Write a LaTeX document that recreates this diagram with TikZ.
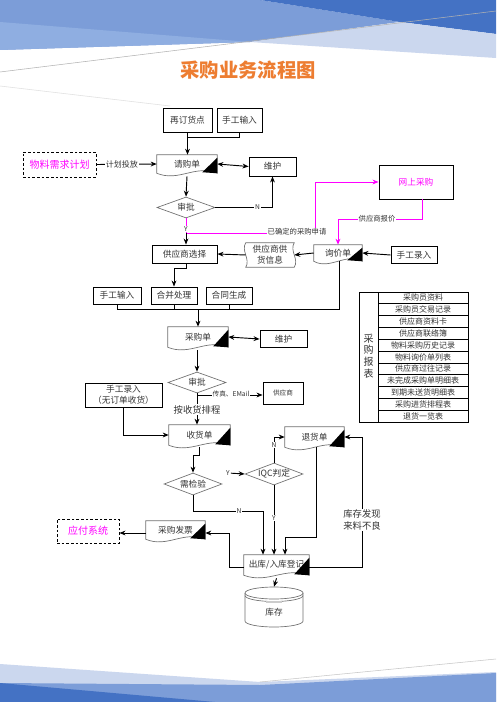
\documentclass[tikz,border=0pt]{standalone}
\usepackage{fontspec}
\setmainfont{Noto Sans CJK SC}
\usetikzlibrary{arrows.meta,shapes.geometric,calc}
\definecolor{bgdark}{HTML}{4472C4}
\definecolor{bgmid}{HTML}{7C9DD8}
\definecolor{bgmidb}{HTML}{8FAEE1}
\definecolor{bglight}{HTML}{CBD7EE}
\definecolor{txt}{HTML}{333333}
\definecolor{mag}{HTML}{FF00FF}
\definecolor{ttl}{HTML}{ED7D31}
\definecolor{shp}{HTML}{707070}
\newcommand\docdraw[1]{%
  \draw[docline] (#1.north west) -- (#1.north east) -- (#1.south east)
    .. controls ($(#1.south)+(8,-9)$) and ($(#1.south)+(-8,9)$) .. (#1.south west) -- cycle;
  \fill[black] (#1.south east) -- ($(#1.south east)+(-15,-1)$) -- ($(#1.north east)+(0,3)$) -- cycle;}
\tikzset{
  mw/.style={minimum width=#1*0.75pt},
  mh/.style={minimum height=#1*0.75pt},
  box/.style={draw=black, line width=0.7pt, inner sep=0pt, text=txt, font=\fontsize{6.5}{8}\selectfont},
  dbox/.style={box, dash pattern=on 2pt off 1.5pt},
  doc/.style={inner sep=0pt, text=txt, font=\fontsize{6.5}{8}\selectfont},
  docline/.style={draw=shp, line width=0.5pt},
  dia/.style={diamond, aspect=2.8, draw=shp, line width=0.5pt, inner sep=0pt, text=txt, font=\fontsize{6.5}{8}\selectfont},
  lab/.style={fill=white, inner sep=0.6pt, text=txt, font=\fontsize{5.5}{6.5}\selectfont},
  arr/.style={line width=0.7pt, -{Stealth[length=4.5pt,width=3.6pt]}},
  darr/.style={line width=0.7pt, {Stealth[length=4.5pt,width=3.6pt]}-{Stealth[length=4.5pt,width=3.6pt]}},
  con/.style={line width=0.7pt},
  mcon/.style={draw=mag, line width=0.7pt},
  marr/.style={draw=mag, line width=0.7pt, -{Stealth[length=4.5pt,width=3.6pt]}, mag},
  rowt/.style={inner sep=0pt, text=txt, font=\fontsize{6}{7}\selectfont}
}
\begin{document}
\begin{tikzpicture}[x=0.75pt,y=-0.75pt]
\useasboundingbox (0,0) rectangle (496,702);
\fill[white] (0,0) rectangle (496,702);
% top decoration
\fill[bgmid] (0,0) -- (260,0) -- (400,22) -- (250,42) -- (0,50) -- cycle;
\fill[bgmidb] (0,22) -- (250,42) -- (0,50) -- cycle;
\fill[bgdark] (260,0) -- (496,0) -- (496,34) -- (400,22) -- cycle;
\fill[bglight] (250,42) -- (400,22) -- (496,34) -- (496,58) -- cycle;
\draw[gray!60, line width=0.4pt] (0,72) -- (496,11);
\draw[gray!25, line width=0.4pt] (0,86) -- (170,106);
% bottom decoration
\fill[bglight] (0,664) -- (260,682) -- (496,672) -- (496,702) -- (0,702) -- cycle;
\fill[bgmid] (0,683) -- (260,685) -- (496,673) -- (496,702) -- (0,702) -- cycle;
\fill[bgdark] (0,683) -- (215,702) -- (0,702) -- cycle;
\draw[gray!45, line width=0.4pt] (260,682) -- (496,659);

% title
\node[text=ttl, font=\fontsize{14.5}{16}\selectfont\bfseries] (title) at (248,70) {采购业务流程图};

% nodes
\node[box, mw=49, mh=24] (zdhd) at (187.5,120) {再订货点};
\node[box, mw=45, mh=24] (sgsr1) at (239.5,120) {手工输入};
\node[dbox, mw=73, mh=25, text=mag, font=\fontsize{7.5}{9}\selectfont] (wlxq) at (59.5,164.5) {物料需求计划};
\node[doc, mw=60, mh=18] (qgd) at (187,164) {请购单};
\docdraw{qgd}
\node[box, mw=47, mh=19] (wh1) at (272.5,166.5) {维护};
\node[dia, mw=58, mh=21] (sp1) at (186,207.5) {审批};
\node[box, mw=74, mh=34, text=mag] (wssg) at (416,182) {网上采购};
\node[doc, mw=48, mh=16] (xjd) at (338,253) {询价单};
\docdraw{xjd}
\node[box, mw=46, mh=17] (sglr) at (414,255) {手工录入};
\node[doc, mw=48, mh=24, align=center, font=\fontsize{6.5}{8.5}\selectfont] (gyxx) at (270,255) {供应商供\\货信息};
\draw[docline] (gyxx.north west) -- (gyxx.north east)
  .. controls ($(gyxx.north east)+(-5,8)$) and ($(gyxx.south east)+(5,-8)$) .. (gyxx.south east)
  -- (gyxx.south west)
  .. controls ($(gyxx.south west)+(5,-8)$) and ($(gyxx.north west)+(-5,8)$) .. (gyxx.north west) -- cycle;
\node[box, mw=65, mh=18] (gysxz) at (184.5,254) {供应商选择};
\node[box, mw=48, mh=17] (sgsr2) at (117,295.5) {手工输入};
\node[box, mw=46, mh=17] (hbcl) at (174,295.5) {合并处理};
\node[box, mw=46, mh=17] (htsc) at (229,295.5) {合同生成};
\node[doc, mw=60, mh=20] (cgd) at (198,337) {采购单};
\docdraw{cgd}
\node[box, mw=47, mh=17] (wh2) at (283.5,339) {维护};
\node[dia, mw=58, mh=21] (sp2) at (197,382.5) {审批};
\node[box, mw=40, mh=22, font=\fontsize{5}{6}\selectfont] (gys) at (283,393) {供应商};
\node[box, mw=77, mh=24, align=center, font=\fontsize{6.5}{8}\selectfont] (sglr2) at (123.5,395) {手工录入\\（无订单收货）};
\node[doc, mw=61, mh=20] (shd) at (199.5,435) {收货单};
\docdraw{shd}
\node[dia, mw=58, mh=22] (jjy) at (193,484) {需检验};
\node[dia, mw=58, mh=22] (iqc) at (274,474) {IQC判定};
\node[doc, mw=59, mh=20] (thd) at (314.5,437) {退货单};
\docdraw{thd}
\node[doc, mw=65, mh=20] (ckrk) at (276.5,565) {出库/入库登记};
\docdraw{ckrk}
\node[doc, mw=59, mh=18] (cgfp) at (175.5,530) {采购发票};
\docdraw{cgfp}
\node[dbox, mw=62, mh=24, text=mag, font=\fontsize{7.5}{9}\selectfont] (yfxt) at (88,531) {应付系统};
% cylinder
\node[doc, mw=58, mh=40] (kc) at (274,607) {};
\draw[docline, fill=white] (245,593) -- (245,621) arc[start angle=180, end angle=0, x radius=29, y radius=6] -- (303,593);
\draw[docline] (274,593) ellipse [x radius=29, y radius=6];
\draw[docline] (245,595.5) arc[start angle=180, end angle=0, x radius=29, y radius=6];
\fill[gray!40] (266,601) rectangle (282,603);
\node[text=txt, font=\fontsize{6.5}{8}\selectfont] (kct) at (274,612) {库存};

% report table
\draw[line width=0.7pt] (359,292) rectangle (468,422);
\draw[line width=0.7pt] (378,292) -- (378,422);
\foreach \i in {1,...,10} \draw[line width=0.5pt] (378,{292+\i*130/11}) -- (468,{292+\i*130/11});
\node[inner sep=0pt, text=txt, align=center, font=\fontsize{7.5}{8.8}\selectfont] (cgbb) at (368.5,356) {采\\购\\报\\表};
\foreach \t [count=\i] in {采购员资料,采购员交易记录,供应商资料卡,供应商联络簿,物料采购历史记录,物料询价单列表,供应商过往记录,未完成采购单明细表,到期未送货明细表,采购进货排程表,退货一览表}
  \node[rowt] (r\i) at (423,{292+(\i-0.5)*130/11}) {\t};

% connectors
\draw[arr] (zdhd.south) -- (zdhd.south |- qgd.north);
\draw[con] (sgsr1.south) |- ($(zdhd.south)+(0,5)$);
\draw[arr] (wlxq.east) -- (qgd.west) node[lab, pos=0.42, font=\fontsize{6}{7}\selectfont] {计划投放};
\draw[darr] (qgd.east) -- (wh1.west);
\draw[arr] ($(qgd.south)+(0,3)$) -- (sp1.north);
\draw[arr] (sp1.east) -| (wh1.south) node[lab, pos=0.37, font=\fontsize{5}{6}\selectfont] {N};
\coordinate (ca) at (186,233);
\coordinate (cb) at (315,233);
\draw[mcon] (sp1.south) -- (ca) -- (cb);
\draw[marr] (cb) |- (wssg.west);
\draw[arr] (ca) -- (ca |- gysxz.north);
\node[lab, font=\fontsize{5}{6}\selectfont] (ylab1) at (186,229) {Y};
\node[lab] (qdsq) at (297,232) {已确定的采购申请};
\coordinate (cw) at (422,219);
\draw[marr] (cw |- wssg.south) -- (cw) -| (xjd.north);
\node[lab] (gysbj) at (377,219) {供应商报价};
\draw[arr] (sglr.west) -- (xjd.east);
\draw[arr] (xjd.west) -- (gyxx.east);
\draw[arr] (gyxx.west) -- (gysxz.east);
\draw[arr] ($(gysxz.south)+(1.5,0)$) -- ++(0,5) -| (hbcl.north);
\coordinate (bus) at (339,309);
\draw[con] (sgsr2.south) |- (bus) -- (bus |- xjd.south);
\draw[con] (hbcl.south) -- (hbcl.south |- bus);
\draw[con] (htsc.south) -- (htsc.south |- bus);
\draw[arr] (cgd.north |- bus) -- (cgd.north);
\draw[darr] (cgd.east) -- (wh2.west);
\draw[arr] ($(cgd.south)+(-1,3)$) -- (sp2.north);
\coordinate (cc) at (197,395);
\draw[arr] (sp2.south) -- (sp2.south |- shd.north);
\draw[arr] (cc) -- (cc -| gys.west);
\node[lab, font=\fontsize{5}{6}\selectfont] (czem) at (231,394) {传真、EMail};
\node[lab, font=\fontsize{7}{8}\selectfont] (aslb) at (197,409.5) {按收货排程};
\draw[arr] (sglr2.south) |- (shd.west);
\draw[arr] ($(shd.south)+(0,2)$) -- ++(0,8) -| (jjy.north);
\node[lab, font=\fontsize{5}{6}\selectfont] (yl) at (228,473) {Y};
\draw[arr] (yl) -- (iqc.west);
\draw[arr] (iqc.north) |- (thd.west);
\node[lab, font=\fontsize{5}{6}\selectfont] (nl) at (274,445) {N};
\draw[arr] (iqc.south) -- (iqc.south |- ckrk.north);
\node[lab, font=\fontsize{5}{6}\selectfont] (yl2) at (274,518) {Y};
\coordinate (cn) at (263,511);
\draw[arr] (jjy.south) |- (cn) -- (cn |- ckrk.north);
\node[lab, font=\fontsize{5}{6}\selectfont] (nl2) at (239,511) {N};
\coordinate (ctd) at (285,537);
\draw[arr] ($(thd.south)+(1.5,0)$) |- (ctd) -- (ctd |- ckrk.north);
\coordinate (cr) at (362,567);
\draw[arr] (ckrk.east |- cr) -- (cr) |- (thd.east);
\node[lab, align=center, font=\fontsize{7}{8.5}\selectfont] (kcfx) at (362,520) {库存发现\\来料不良};
\coordinate (cl) at (229,533);
\draw[arr] (ckrk.west |- cr) -| (cl) -- (cgfp.east |- cl);
\draw[arr] (cgfp.west |- cl) -- (yfxt.east |- cl);
\draw[arr] ($(ckrk.south)+(0,3)$) -- (kc.north);
\end{tikzpicture}
\end{document}
